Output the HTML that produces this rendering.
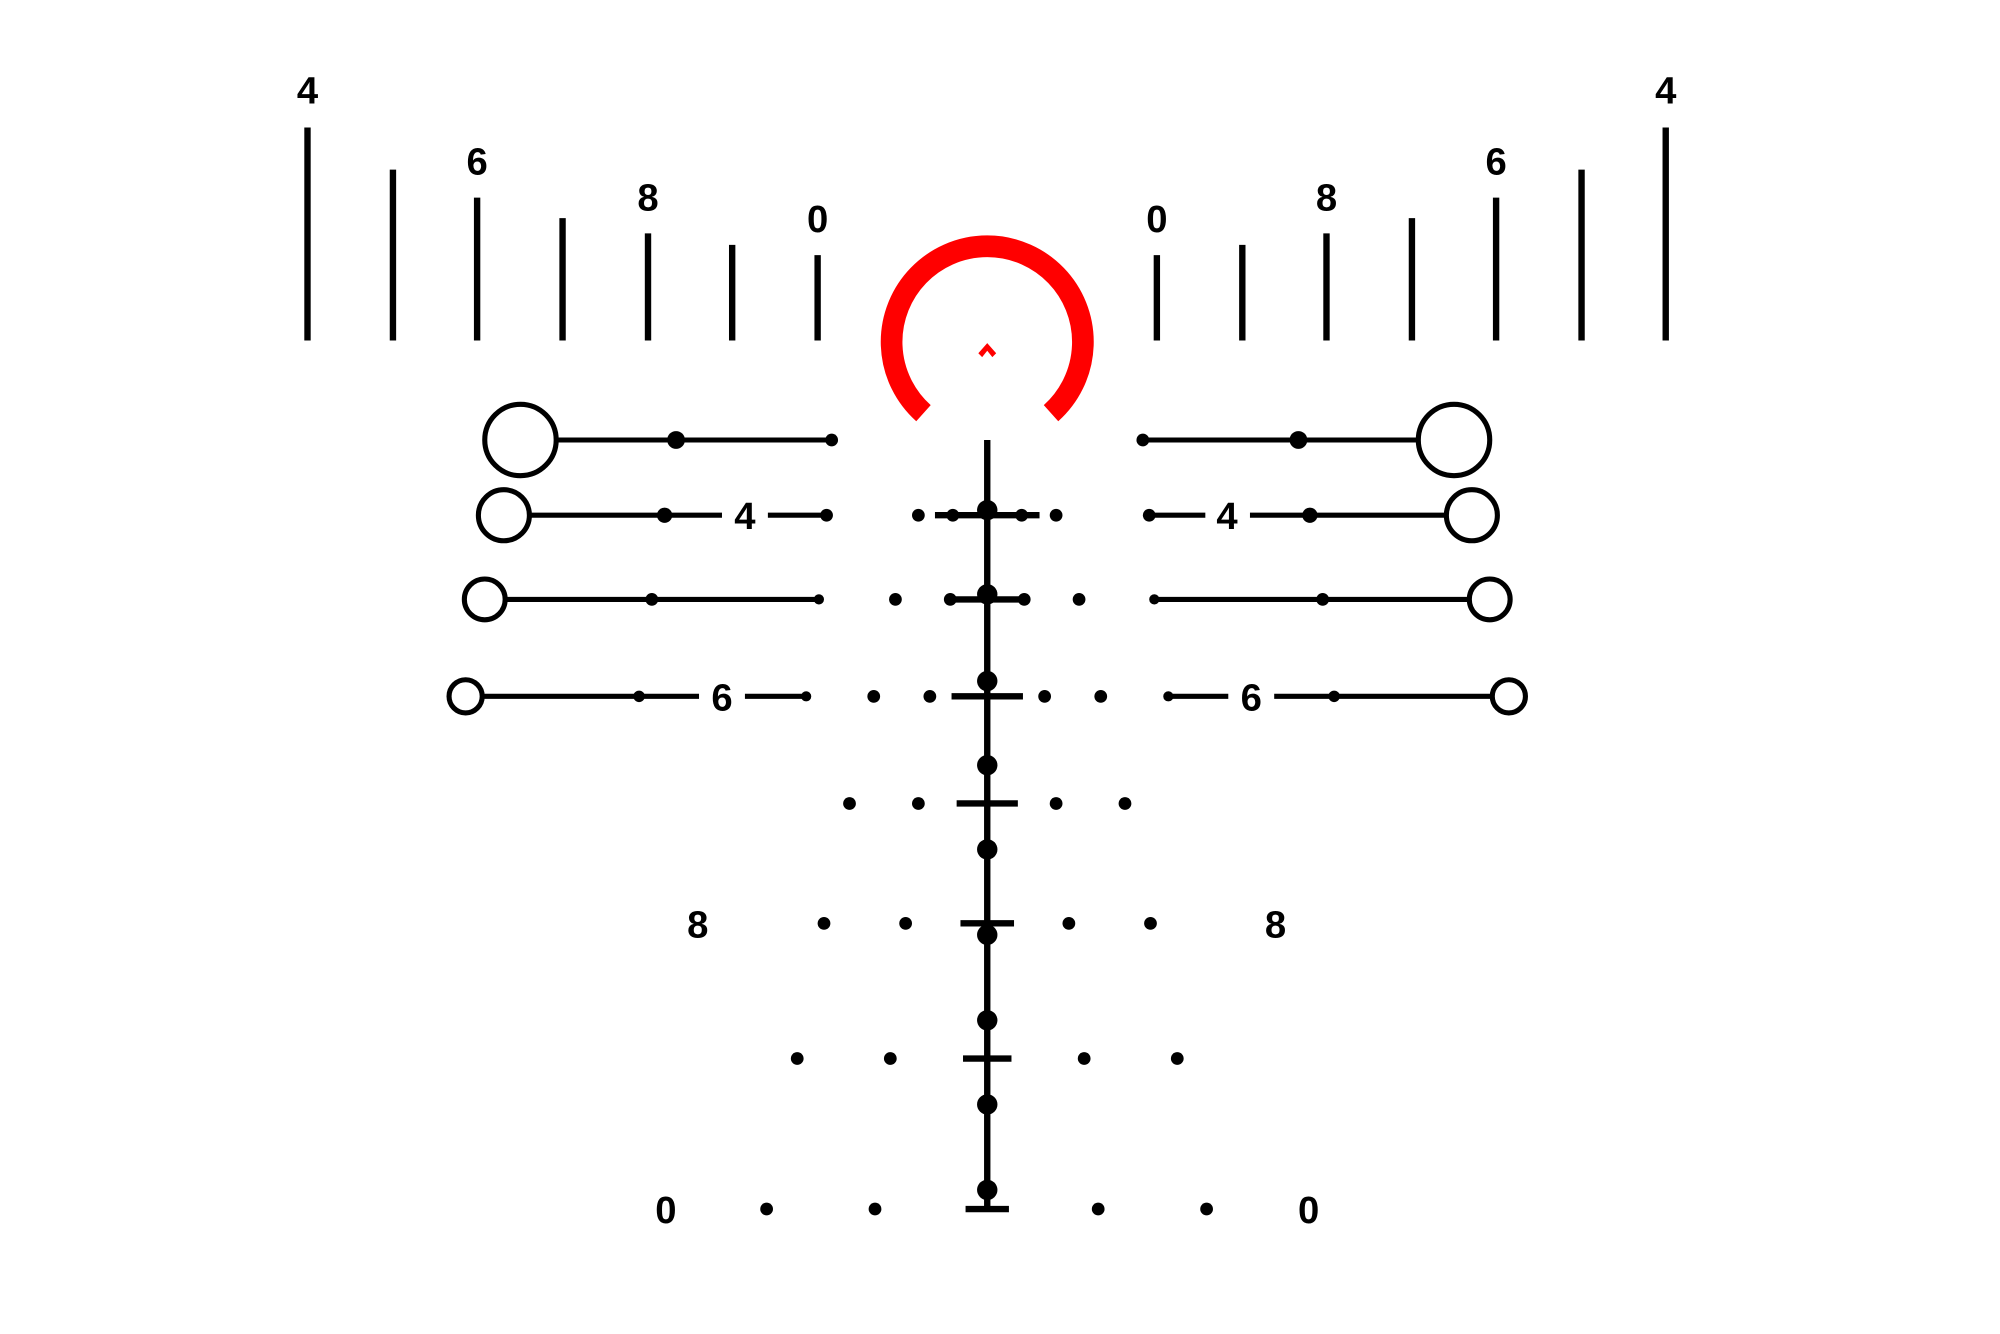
<!DOCTYPE html>
<html><head><style>html,body{margin:0;padding:0;background:#fff}svg{display:block}text{font-family:"Liberation Sans",Arial,sans-serif}</style></head>
<body>
<svg width="2000" height="1334" viewBox="0 0 1568 1046" xmlns="http://www.w3.org/2000/svg">
<rect width="1568" height="1046" fill="#fff"/>
<g stroke="#000" stroke-width="5">
<line x1="241" y1="100" x2="241" y2="267"/><line x1="308" y1="133" x2="308" y2="267"/>
<line x1="374" y1="155" x2="374" y2="267"/><line x1="441" y1="171" x2="441" y2="267"/>
<line x1="508" y1="183" x2="508" y2="267"/><line x1="574" y1="192" x2="574" y2="267"/>
<line x1="641" y1="200" x2="641" y2="267"/>
<line x1="907" y1="200" x2="907" y2="267"/><line x1="974" y1="192" x2="974" y2="267"/>
<line x1="1040" y1="183" x2="1040" y2="267"/><line x1="1107" y1="171" x2="1107" y2="267"/>
<line x1="1173" y1="155" x2="1173" y2="267"/><line x1="1240" y1="133" x2="1240" y2="267"/>
<line x1="1306" y1="100" x2="1306" y2="267"/>
</g>
<g font-size="30" text-anchor="middle" fill="#000" font-weight="bold">
<text x="241" y="81">4</text><text x="1306" y="81">4</text>
<text x="374" y="137">6</text><text x="1173" y="137">6</text>
<text x="508" y="165">8</text><text x="1040" y="165">8</text>
<text x="641" y="182">0</text><text x="907" y="182">0</text>
<text x="584" y="415">4</text><text x="962" y="415">4</text>
<text x="566" y="557">6</text><text x="981" y="557">6</text>
<text x="547" y="735">8</text><text x="1000" y="735">8</text>
<text x="522" y="959">0</text><text x="1026" y="959">0</text>
</g>
<path d="M724 324 A75 75 0 1 1 824 324" fill="none" stroke="#f00" stroke-width="17"/>
<path d="M767 277 L774 269 L781 277 L778 280 L774 275 L770 280 Z" fill="#f00"/>
<g stroke="#000" stroke-width="4" fill="none">
<line x1="774" y1="345" x2="774" y2="948" stroke-width="5"/>
<circle cx="408" cy="345" r="28"/><line x1="436" y1="345" x2="652" y2="345"/>
<circle cx="1140" cy="345" r="28"/><line x1="896" y1="345" x2="1112" y2="345"/>
<circle cx="395" cy="404" r="20"/><line x1="415" y1="404" x2="566" y2="404"/><line x1="602" y1="404" x2="648" y2="404"/>
<circle cx="1154" cy="404" r="20"/><line x1="901" y1="404" x2="945" y2="404"/><line x1="980" y1="404" x2="1134" y2="404"/>
<circle cx="380" cy="470" r="16"/><line x1="396" y1="470" x2="642" y2="470"/>
<circle cx="1168" cy="470" r="16"/><line x1="905" y1="470" x2="1152" y2="470"/>
<circle cx="365" cy="546" r="13"/><line x1="378" y1="546" x2="548" y2="546"/><line x1="584" y1="546" x2="632" y2="546"/>
<circle cx="1183" cy="546" r="13"/><line x1="916" y1="546" x2="963" y2="546"/><line x1="999" y1="546" x2="1170" y2="546"/>
</g>
<g stroke="#000" stroke-width="5">
<line x1="733" y1="404" x2="815" y2="404"/>
<line x1="745" y1="470" x2="803" y2="470"/>
<line x1="746" y1="546" x2="802" y2="546"/>
<line x1="750" y1="630" x2="798" y2="630"/>
<line x1="753" y1="724" x2="795" y2="724"/>
<line x1="755" y1="830" x2="793" y2="830"/>
<line x1="757" y1="948" x2="791" y2="948"/>
</g>
<g fill="#000">
<circle cx="530" cy="345" r="7"/><circle cx="652" cy="345" r="5"/>
<circle cx="1018" cy="345" r="7"/><circle cx="896" cy="345" r="5"/>
<circle cx="521" cy="404" r="6"/><circle cx="648" cy="404" r="5"/>
<circle cx="1027" cy="404" r="6"/><circle cx="901" cy="404" r="5"/>
<circle cx="511" cy="470" r="5"/><circle cx="642" cy="470" r="4"/>
<circle cx="1037" cy="470" r="5"/><circle cx="905" cy="470" r="4"/>
<circle cx="501" cy="546" r="4.5"/><circle cx="632" cy="546" r="4"/>
<circle cx="1046" cy="546" r="4.5"/><circle cx="916" cy="546" r="4"/>
<circle cx="720" cy="404" r="5"/><circle cx="747" cy="404" r="5"/><circle cx="801" cy="404" r="5"/><circle cx="828" cy="404" r="5"/>
<circle cx="774" cy="400" r="8"/>
<circle cx="702" cy="470" r="5"/><circle cx="745" cy="470" r="5"/><circle cx="803" cy="470" r="5"/><circle cx="846" cy="470" r="5"/>
<circle cx="774" cy="466" r="8"/>
<circle cx="685" cy="546" r="5"/><circle cx="729" cy="546" r="5"/><circle cx="819" cy="546" r="5"/><circle cx="863" cy="546" r="5"/>
<circle cx="774" cy="534" r="8"/>
<circle cx="666" cy="630" r="5"/><circle cx="720" cy="630" r="5"/><circle cx="828" cy="630" r="5"/><circle cx="882" cy="630" r="5"/>
<circle cx="774" cy="600" r="8"/><circle cx="774" cy="666" r="8"/>
<circle cx="646" cy="724" r="5"/><circle cx="710" cy="724" r="5"/><circle cx="838" cy="724" r="5"/><circle cx="902" cy="724" r="5"/>
<circle cx="774" cy="733" r="8"/>
<circle cx="774" cy="800" r="8"/><circle cx="774" cy="866" r="8"/>
<circle cx="625" cy="830" r="5"/><circle cx="698" cy="830" r="5"/><circle cx="850" cy="830" r="5"/><circle cx="923" cy="830" r="5"/>
<circle cx="601" cy="948" r="5"/><circle cx="686" cy="948" r="5"/><circle cx="861" cy="948" r="5"/><circle cx="946" cy="948" r="5"/>
<circle cx="774" cy="933" r="8"/>
</g>
</svg>
</body></html>
